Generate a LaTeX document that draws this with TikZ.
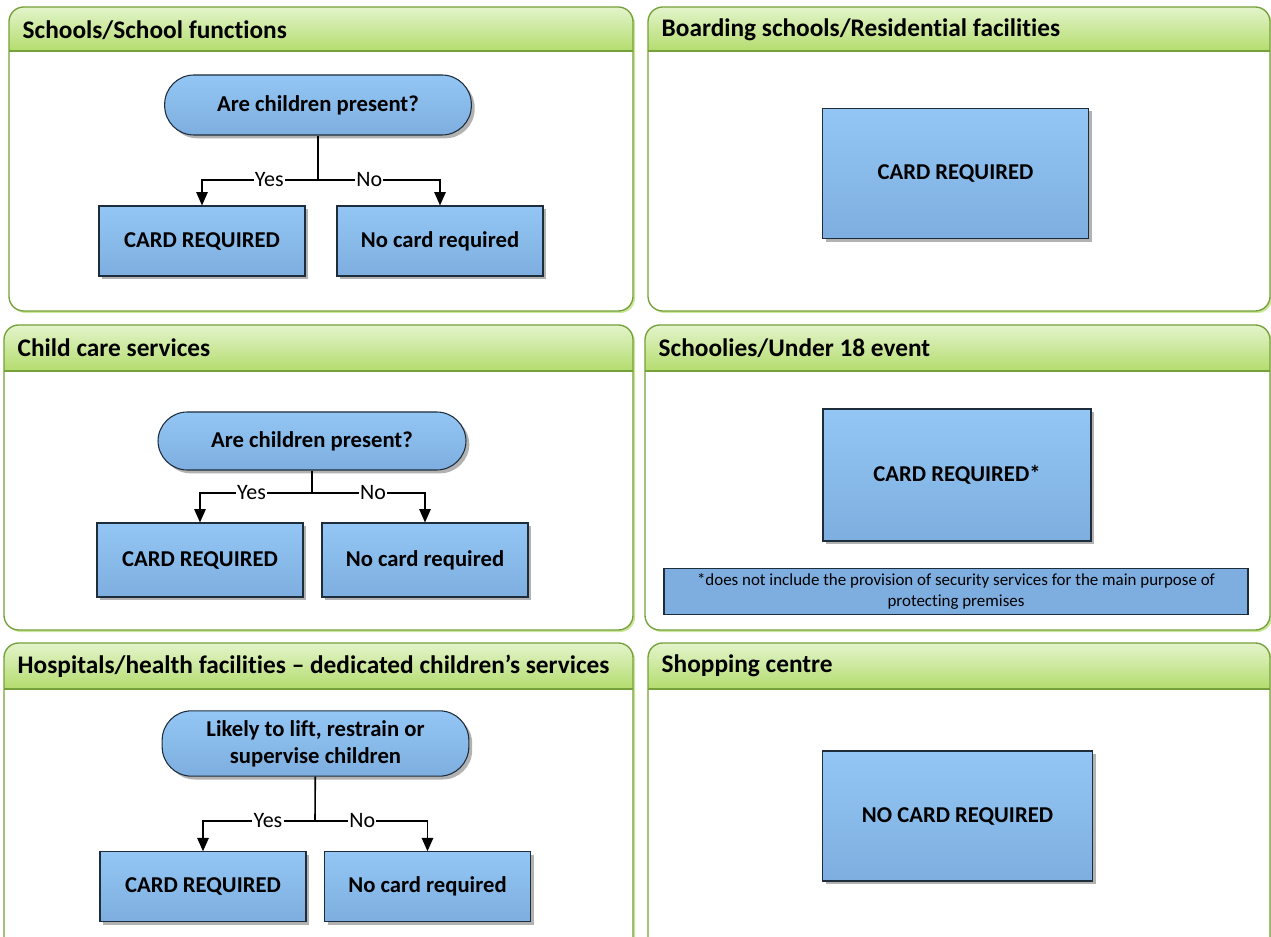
\documentclass[tikz,border=0pt]{standalone}
\usepackage{fontspec}
\setmainfont{Carlito}[Ligatures=NoCommon]
\usetikzlibrary{arrows.meta,shadows}
\definecolor{leafline}{HTML}{76A03A}
\definecolor{leaftop}{HTML}{E3F4CB}
\definecolor{leafbot}{HTML}{B4DC6E}
\definecolor{skytop}{HTML}{93C6F5}
\definecolor{skybot}{HTML}{7DAEDF}
\definecolor{inkline}{HTML}{1E2D3B}

\begin{document}
\begin{tikzpicture}[x=0.75pt,y=-0.75pt,>={Triangle[length=10pt,width=8.5pt]},
 panel/.style={fill=white,rounded corners=11pt,
  drop shadow={shadow xshift=1.5pt,shadow yshift=-1.5pt,fill=leafbot,opacity=.7}},
 rim/.style={draw=leafline,line width=1pt,rounded corners=11pt},
 hdr/.style={top color=leaftop,bottom color=leafbot},
 ttl/.style={anchor=west,font=\fontsize{19}{22}\selectfont\bfseries},
 card/.style={draw=inkline,line width=.8pt,top color=skytop,bottom color=skybot,align=center,
  font=\fontsize{17}{20}\selectfont\bfseries,inner sep=0pt,
  drop shadow={shadow xshift=2.5pt,shadow yshift=-2.5pt,fill=black!55,opacity=.55}},
 ask/.style={card,rounded corners=22pt},
 lbl/.style={fill=white,inner sep=1pt,font=\fontsize{16.5}{19}\selectfont},
 note/.style={draw=inkline,line width=.8pt,fill=skybot,align=center,inner sep=0pt,
  font=\fontsize{12.7}{15.7}\selectfont},
 link/.style={line width=1.2pt}]
\useasboundingbox (0,0) rectangle (1271,937);

% frames with green headers
\path[panel] (9,7) rectangle (633,311);
\begin{scope}
\clip[rounded corners=11pt] (9,7) rectangle (633,311);
\shade[hdr] (9,7) rectangle (633,51);
\end{scope}
\draw[rim] (9,7) rectangle (633,311);
\draw[leafline,line width=1pt] (9,51) -- (633,51);

\path[panel] (648,7) rectangle (1270,311);
\begin{scope}
\clip[rounded corners=11pt] (648,7) rectangle (1270,311);
\shade[hdr] (648,7) rectangle (1270,51);
\end{scope}
\draw[rim] (648,7) rectangle (1270,311);
\draw[leafline,line width=1pt] (648,51) -- (1270,51);

\path[panel] (4,325) rectangle (633,630);
\begin{scope}
\clip[rounded corners=11pt] (4,325) rectangle (633,630);
\shade[hdr] (4,325) rectangle (633,371);
\end{scope}
\draw[rim] (4,325) rectangle (633,630);
\draw[leafline,line width=1pt] (4,371) -- (633,371);

\path[panel] (645,325) rectangle (1270,630);
\begin{scope}
\clip[rounded corners=11pt] (645,325) rectangle (1270,630);
\shade[hdr] (645,325) rectangle (1270,371);
\end{scope}
\draw[rim] (645,325) rectangle (1270,630);
\draw[leafline,line width=1pt] (645,371) -- (1270,371);

\path[panel] (4,643) rectangle (633,960);
\begin{scope}
\clip[rounded corners=11pt] (4,643) rectangle (633,960);
\shade[hdr] (4,643) rectangle (633,689);
\end{scope}
\draw[rim] (4,643) rectangle (633,960);
\draw[leafline,line width=1pt] (4,689) -- (633,689);

\path[panel] (648,643) rectangle (1270,960);
\begin{scope}
\clip[rounded corners=11pt] (648,643) rectangle (1270,960);
\shade[hdr] (648,643) rectangle (1270,689);
\end{scope}
\draw[rim] (648,643) rectangle (1270,960);
\draw[leafline,line width=1pt] (648,689) -- (1270,689);

\node[ttl] (t1) at (18,30) {Schools/School functions};
\node[ttl] (t2) at (657,30) {Boarding schools/Residential facilities};
\node[ttl] (t3) at (13,348) {Child care services};
\node[ttl] (t4) at (654,348) {Schoolies/Under 18 event};
\node[ttl] (t5) at (13,666) {Hospitals/health facilities -- dedicated children’s services};
\node[ttl] (t6) at (657,666) {Shopping centre};

% schools
\node[ask,minimum width=230pt,minimum height=45pt] (ask1) at (318,105) {Are children present?};
\node[card,minimum width=154.5pt,minimum height=52.5pt] (card1) at (202,241) {CARD REQUIRED};
\node[card,minimum width=154.5pt,minimum height=52.5pt] (nocard1) at (440,241) {No card required};
\coordinate (j1) at (318,180);
\draw[link] (ask1) -- (j1);
\draw[link,->] (j1) -| node[lbl,pos=.21]{Yes} (card1);
\draw[link,->] (j1) -| node[lbl,pos=.21]{No} (nocard1);

% boarding
\node[card,minimum width=200pt,minimum height=98pt] (card2) at (955.5,173.5) {CARD REQUIRED};

% child care
\node[ask,minimum width=231pt,minimum height=43.5pt] (ask3) at (312,441) {Are children present?};
\node[card,minimum width=154.5pt,minimum height=55.5pt] (card3) at (200,560) {CARD REQUIRED};
\node[card,minimum width=154.5pt,minimum height=55.5pt] (nocard3) at (425,560) {No card required};
\coordinate (j3) at (312,493);
\draw[link] (ask3) -- (j3);
\draw[link,->] (j3) -| node[lbl,pos=.27]{Yes} (card3);
\draw[link,->] (j3) -| node[lbl,pos=.27]{No} (nocard3);

% schoolies
\node[card,minimum width=201pt,minimum height=99pt] (card4) at (957,475) {CARD REQUIRED*};
\node[note,minimum width=438pt,minimum height=34pt] (note4) at (956,591.5)
 {*does not include the provision of security services for the main purpose of\\protecting premises};

% hospitals
\node[ask,minimum width=230pt,minimum height=49pt] (ask5) at (315.5,743.5) {Likely to lift, restrain or\\supervise children};
\node[card,minimum width=154.5pt,minimum height=52pt] (card5) at (203,886.5) {CARD REQUIRED};
\node[card,minimum width=154pt,minimum height=52pt] (nocard5) at (427.5,886.5) {No card required};
\coordinate (j5) at (315,821);
\draw[link] (ask5) -- (j5);
\draw[link,->] (j5) -| node[lbl,pos=.21]{Yes} (card5);
\draw[link,->] (j5) -| node[lbl,pos=.21]{No} (nocard5);

% shopping
\node[card,minimum width=202pt,minimum height=97.5pt] (card6) at (957.5,816) {NO CARD REQUIRED};
\end{tikzpicture}
\end{document}
